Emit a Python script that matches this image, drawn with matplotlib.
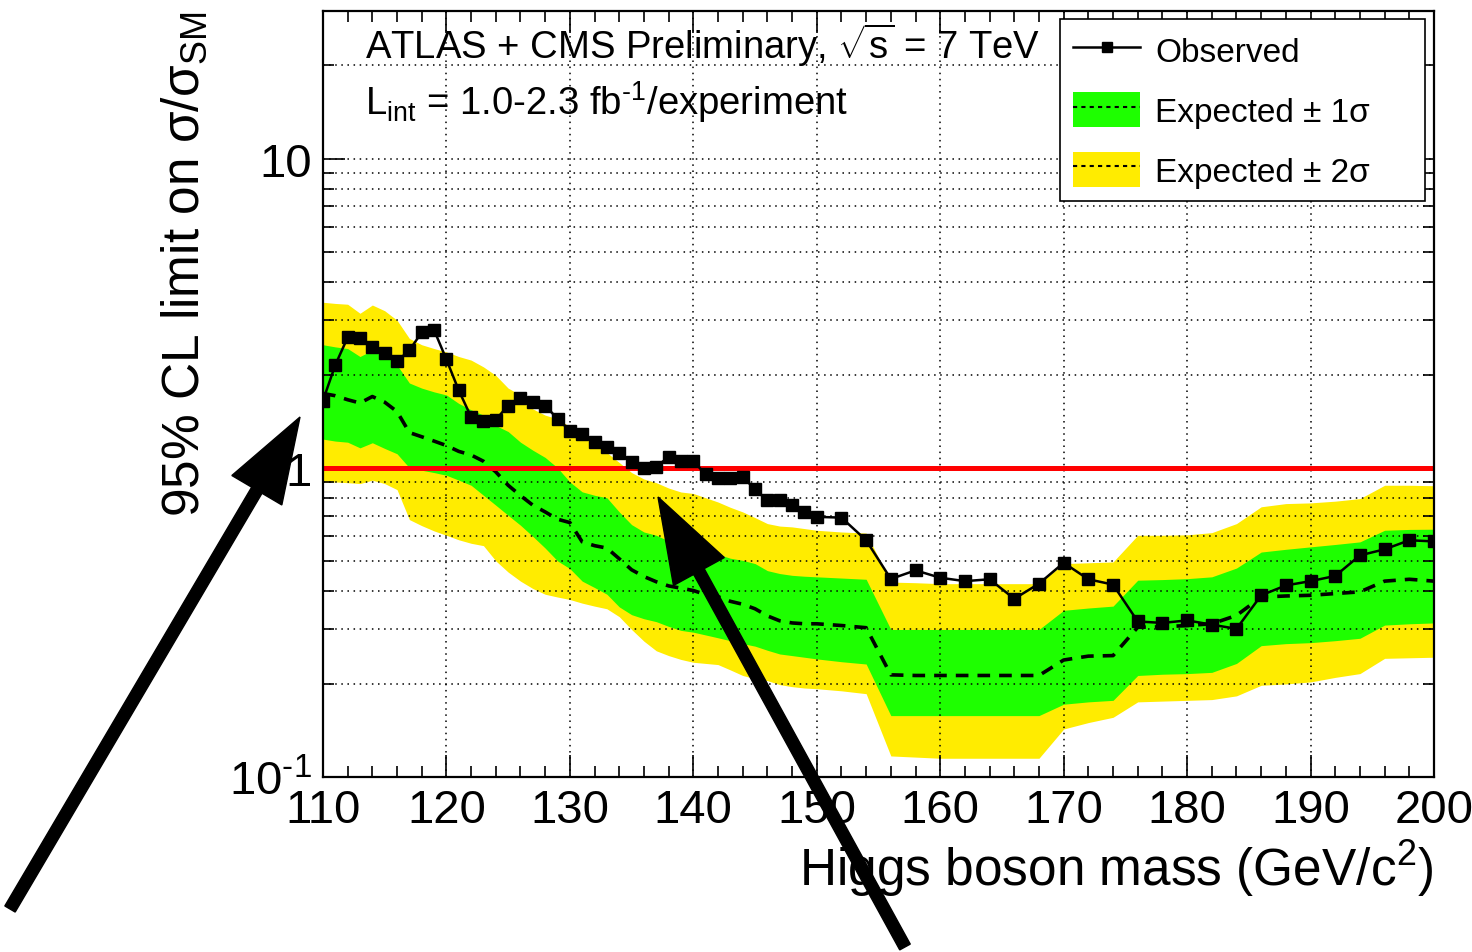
import matplotlib
matplotlib.use("Agg")
import matplotlib.pyplot as plt
from matplotlib.lines import Line2D
from matplotlib.patches import Patch, FancyArrow
from matplotlib.transforms import IdentityTransform
from matplotlib.ticker import FixedLocator, FixedFormatter, NullFormatter

plt.rcParams['font.family'] = ['Liberation Sans', 'DejaVu Sans']
plt.rcParams['mathtext.fontset'] = 'custom'
plt.rcParams['mathtext.rm'] = 'Liberation Sans'
plt.rcParams['mathtext.it'] = 'Liberation Sans:italic'

# Higgs mass points (GeV)
mass = list(range(110, 151)) + list(range(152, 201, 2))

observed = [1.65, 2.15, 2.64, 2.62, 2.46, 2.35, 2.21, 2.40, 2.74, 2.79,
            2.24, 1.78, 1.46, 1.42, 1.43, 1.59, 1.68, 1.63, 1.59, 1.44,
            1.32, 1.29, 1.21, 1.17, 1.12, 1.045, 0.995, 1.007, 1.085, 1.05,
            1.05, 0.953, 0.93, 0.925, 0.935, 0.852, 0.785, 0.787, 0.758, 0.72,
            0.694, 0.69, 0.583, 0.437, 0.466, 0.441, 0.43, 0.436, 0.377, 0.422,
            0.493, 0.436, 0.419, 0.3185, 0.315, 0.321, 0.311, 0.3015, 0.387, 0.4165,
            0.43, 0.447, 0.521, 0.545, 0.583, 0.578]

expected = [1.74, 1.71, 1.66, 1.62, 1.70, 1.63, 1.52, 1.30, 1.26, 1.22,
            1.18, 1.13, 1.10, 1.05, 0.97, 0.878, 0.813, 0.757, 0.72, 0.682,
            0.665, 0.576, 0.56, 0.55, 0.508, 0.468, 0.445, 0.428, 0.415, 0.408,
            0.401, 0.389, 0.383, 0.37, 0.362, 0.35, 0.332, 0.32, 0.315, 0.313,
            0.313, 0.309, 0.304, 0.214, 0.213, 0.213, 0.213, 0.213, 0.213, 0.213,
            0.239, 0.246, 0.247, 0.305, 0.306, 0.309, 0.313, 0.333, 0.382, 0.385,
            0.387, 0.392, 0.397, 0.43, 0.436, 0.43]

exp_2s_up = [3.43, 3.40, 3.38, 3.16, 3.36, 3.22, 3.0, 2.62, 2.50, 2.43,
             2.37, 2.29, 2.23, 2.12, 1.99, 1.81, 1.72, 1.55, 1.48, 1.44,
             1.36, 1.28, 1.19, 1.12, 1.04, 0.965, 0.92, 0.895, 0.86, 0.835,
             0.826, 0.80, 0.775, 0.745, 0.72, 0.69, 0.66, 0.648, 0.644, 0.636,
             0.628, 0.62, 0.615, 0.427, 0.425, 0.422, 0.422, 0.422, 0.422, 0.422,
             0.49, 0.493, 0.496, 0.605, 0.605, 0.607, 0.617, 0.66, 0.748, 0.766,
             0.77, 0.78, 0.795, 0.878, 0.878, 0.875]

exp_1s_up = [2.50, 2.46, 2.43, 2.29, 2.40, 2.32, 2.15, 1.88, 1.81, 1.76,
             1.72, 1.615, 1.54, 1.48, 1.37, 1.31, 1.21, 1.14, 1.08, 1.0,
             0.90, 0.836, 0.815, 0.80, 0.72, 0.655, 0.62, 0.605, 0.58, 0.56,
             0.555, 0.54, 0.525, 0.51, 0.502, 0.49, 0.465, 0.455, 0.449, 0.446,
             0.444, 0.44, 0.436, 0.30, 0.30, 0.30, 0.30, 0.30, 0.30, 0.30,
             0.346, 0.352, 0.357, 0.433, 0.435, 0.438, 0.444, 0.474, 0.534, 0.545,
             0.555, 0.565, 0.576, 0.628, 0.632, 0.633]

exp_1s_dn = [1.238, 1.22, 1.21, 1.16, 1.205, 1.155, 1.11, 1.0, 0.982, 0.965,
             0.946, 0.912, 0.878, 0.815, 0.757, 0.702, 0.652, 0.60, 0.55, 0.50,
             0.472, 0.43, 0.41, 0.39, 0.355, 0.335, 0.325, 0.318, 0.307, 0.298,
             0.294, 0.288, 0.282, 0.276, 0.27, 0.265, 0.257, 0.25, 0.247, 0.244,
             0.241, 0.236, 0.232, 0.158, 0.158, 0.158, 0.158, 0.158, 0.158, 0.158,
             0.172, 0.175, 0.177, 0.213, 0.215, 0.216, 0.218, 0.233, 0.266, 0.27,
             0.272, 0.276, 0.281, 0.31, 0.313, 0.315]

exp_2s_dn = [0.90, 0.90, 0.895, 0.889, 0.912, 0.889, 0.85, 0.68, 0.65, 0.625,
             0.605, 0.585, 0.57, 0.56, 0.50, 0.46, 0.43, 0.407, 0.39, 0.382,
             0.375, 0.365, 0.357, 0.35, 0.33, 0.30, 0.275, 0.256, 0.247, 0.24,
             0.235, 0.233, 0.231, 0.222, 0.213, 0.208, 0.205, 0.199, 0.196, 0.194,
             0.193, 0.19, 0.186, 0.117, 0.116, 0.115, 0.115, 0.115, 0.115, 0.115,
             0.143, 0.15, 0.156, 0.175, 0.176, 0.177, 0.178, 0.183, 0.198, 0.2,
             0.203, 0.21, 0.216, 0.242, 0.243, 0.244]

yellow = '#ffec00'
green = '#1eff00'

fig = plt.figure(figsize=(14.72, 9.53), dpi=100)
ax = fig.add_axes([0.2194, 0.1836, 0.7548, 0.8038])

ax.fill_between(mass, exp_2s_dn, exp_2s_up, color=yellow, lw=0, zorder=1)
ax.fill_between(mass, exp_1s_dn, exp_1s_up, color=green, lw=0, zorder=1.1)
ax.plot(mass, expected, color='black', ls=(0, (3.5, 2.5)), lw=2.6, zorder=2)
ax.axhline(1.0, color='#ff0000', lw=3.6, zorder=2.2)
ax.plot(mass, observed, color='black', lw=1.8, marker='s', ms=8.5, zorder=3)

ax.set_yscale('log')
ax.set_xlim(110, 200)
ax.set_ylim(0.1, 30)

ax.set_axisbelow('line')
ax.xaxis.set_major_locator(FixedLocator(range(110, 201, 10)))
ax.xaxis.set_minor_locator(FixedLocator(range(110, 201, 2)))
ax.yaxis.set_major_locator(FixedLocator([0.1, 1, 10]))
ax.yaxis.set_major_formatter(FixedFormatter(['10$^{\\text{-1}}$', '1', '10']))
minor_y = [k * 0.1 for k in range(2, 10)] + list(range(2, 10)) + [20, 30]
ax.yaxis.set_minor_locator(FixedLocator(minor_y))
ax.yaxis.set_minor_formatter(NullFormatter())

ax.grid(True, which='major', axis='x', color='black', ls=(0, (1, 3)), lw=1.1)
ax.grid(True, which='both', axis='y', color='black', ls=(0, (1, 3)), lw=1.1)

ax.tick_params(which='both', direction='in', top=True, right=True, width=1.2)
ax.tick_params(which='major', length=16, labelsize=34, pad=8)
ax.tick_params(which='minor', length=8)
for s in ax.spines.values():
    s.set_linewidth(1.6)

ax.set_xlabel('Higgs boson mass (GeV/c$^{2}$)', fontsize=37, loc='right', labelpad=4)
ax.set_ylabel('95% CL limit on σ/σ$_{\\rm SM}$', fontsize=37, loc='top', labelpad=14)

ax.text(0.038, 0.957, 'ATLAS + CMS Preliminary, $\\sqrt{\\rm s}$ = 7 TeV',
        transform=ax.transAxes, fontsize=27.5, va='center', ha='left')
ax.text(0.038, 0.882, 'L$_{\\rm int}$ = 1.0-2.3 fb$^{\\text{-1}}$/experiment',
        transform=ax.transAxes, fontsize=27.5, va='center', ha='left')

handles = [Line2D([], [], color='black', lw=1.8, marker='s', ms=7),
           (Patch(facecolor=green, lw=0), Line2D([], [], color='black', ls=(0, (2, 2)), lw=1.5)),
           (Patch(facecolor=yellow, lw=0), Line2D([], [], color='black', ls=(0, (2, 2)), lw=1.5))]
labels = ['Observed', 'Expected ± 1σ', 'Expected ± 2σ']
leg = ax.legend(handles, labels, loc='upper left',
                bbox_to_anchor=(0.6634, 0.9896, 0.3285, 0.0), mode='expand',
                frameon=True, fancybox=False, edgecolor='black', framealpha=1,
                prop={'size': 24}, handlelength=2.0, handleheight=1.25,
                labelspacing=0.72, borderpad=0.4, handletextpad=0.45,
                borderaxespad=0.0)
leg.get_frame().set_linewidth(1.2)

# big annotation arrows (figure pixels)
fig.add_artist(FancyArrow(10, 43, 290, 492, width=12, head_width=58, head_length=85,
                          length_includes_head=True, color='black',
                          transform=IdentityTransform()))
fig.add_artist(FancyArrow(905, 5, -247, 450, width=12, head_width=58, head_length=85,
                          length_includes_head=True, color='black',
                          transform=IdentityTransform()))

fig.savefig('out.png', dpi=100)
